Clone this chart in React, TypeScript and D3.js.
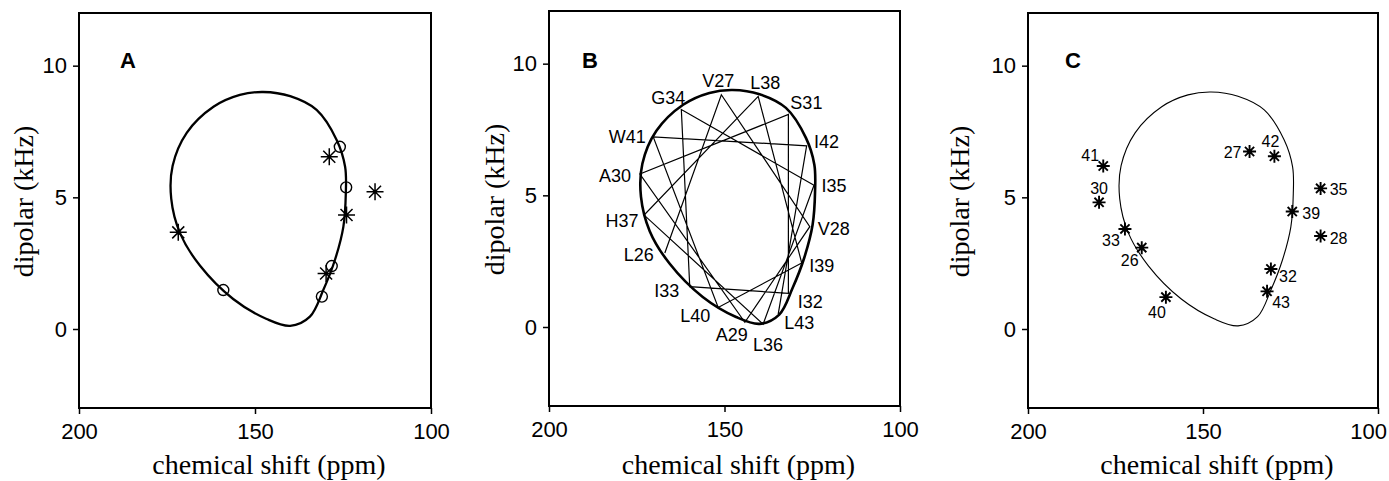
import React, { useRef, useEffect } from 'react';
import * as d3 from 'd3';

const W = 1389;
const H = 481;

// axis ticks
const xTicks = [200, 150, 100];
const yTicks = [0, 5, 10];

// theoretical wheel (ppm / kHz), clockwise from the top
const loopShift = [147.7, 140.0, 132.5, 126.8, 124.4, 124.2, 124.9, 127.3, 130.6, 134.4, 140.0, 146.7, 156.2, 165.6, 171.3, 173.8, 173.4, 169.4, 161.8, 154.3];
const loopDipolar = [9.0, 8.84, 8.32, 7.18, 6.16, 5.15, 3.88, 2.62, 1.48, 0.47, 0.12, 0.38, 1.14, 2.4, 3.64, 4.95, 6.2, 7.45, 8.44, 8.89];

// panel A: open circles and asterisks
const circleShift = [125.9, 124.1, 128.2, 131.0, 159.0];
const circleDipolar = [6.92, 5.38, 2.39, 1.23, 1.48];
const starShift = [128.9, 115.9, 124.0, 129.8, 171.8];
const starDipolar = [6.54, 5.21, 4.33, 2.11, 3.67];

// panel B: helical wheel, residues in sequence order
const wheelResidues = ['L26', 'V27', 'V28', 'A29', 'A30', 'S31', 'I32', 'I33', 'G34', 'I35', 'L36', 'H37', 'L38', 'I39', 'L40', 'W41', 'I42', 'L43'];
const wheelShift = [167.0, 150.9, 125.7, 144.2, 174.1, 131.8, 131.8, 159.9, 162.3, 124.5, 139.0, 172.9, 140.4, 128.0, 151.8, 170.3, 126.6, 134.7];
const wheelDipolar = [2.81, 8.82, 3.81, 0.18, 5.81, 8.07, 1.28, 1.53, 8.26, 5.38, 0.11, 4.25, 8.76, 2.43, 0.74, 7.22, 6.88, 0.49];

// panel C: measured residues
const measuredResidues = ['41', '30', '33', '26', '40', '27', '42', '35', '39', '28', '32', '43'];
const measuredShift = [178.5, 179.7, 172.3, 167.5, 160.6, 136.7, 129.6, 116.4, 124.5, 116.4, 130.6, 131.7];
const measuredDipolar = [6.19, 4.81, 3.8, 3.09, 1.21, 6.74, 6.56, 5.34, 4.46, 3.53, 2.28, 1.43];

// label nudges (px) from each point
const wheelNudge = {
  L26: [-26, 2], V27: [-3, -14], V28: [24, 2], A29: [-13, 12], A30: [-25, 2], S31: [18, -12],
  I32: [22, 8], I33: [-23, 4], G34: [-13, -12], I35: [20, 0], L36: [5, 20], H37: [-22, 5],
  L38: [7, -14], I39: [20, 3], L40: [-23, 8], W41: [-26, 0], I42: [20, -4], L43: [21, 8],
};
const measuredNudge = {
  '41': [-13, -11], '30': [0, -14], '33': [-14, 11], '26': [-12, 13], '40': [-9, 15], '27': [-17, 1],
  '42': [-4, -15], '35': [18, 1], '39': [19, 2], '28': [18, 2], '32': [17, 7], '43': [14, 11],
};

const panels = [
  { id: 'A', left: 79, right: 431, top: 13, bottom: 408, titleX: 33, letterX: 120, loopWidth: 2.3 },
  { id: 'B', left: 549, right: 900, top: 11, bottom: 406, titleX: 504, letterX: 582, loopWidth: 2.6 },
  { id: 'C', left: 1028, right: 1378, top: 13, bottom: 408, titleX: 969, letterX: 1065, loopWidth: 1.1 },
];

const sans = "'Liberation Sans', Arial, Helvetica, sans-serif";
const serif = "'Liberation Serif', 'Times New Roman', serif";

const starPath = (r) => {
  const p = [];
  for (let k = 0; k < 4; k++) {
    const a = (k * Math.PI) / 4;
    const dx = r * Math.cos(a), dy = r * Math.sin(a);
    p.push(`M${-dx},${-dy}L${dx},${dy}`);
  }
  return p.join('');
};

const App = () => {
  const svgRef = useRef();

  useEffect(() => {
    const svg = d3.select(svgRef.current);
    svg.selectAll('*').remove();

    panels.forEach((pn) => {
      const x = d3.scaleLinear().domain([200, 100]).range([pn.left, pn.right]);
      const y = d3.scaleLinear().domain([-3, 12]).range([pn.bottom, pn.top]);
      const g = svg.append('g');

      // axes
      const xa = g.append('g')
        .attr('transform', `translate(0,${pn.bottom})`)
        .call(d3.axisBottom(x).tickValues(xTicks).tickSize(6).tickPadding(9).tickFormat(d3.format('d')));
      const ya = g.append('g')
        .attr('transform', `translate(${pn.left},0)`)
        .call(d3.axisLeft(y).tickValues(yTicks).tickSize(6).tickPadding(6).tickFormat(d3.format('d')));
      [xa, ya].forEach((a) => {
        a.select('.domain').remove();
        a.attr('font-family', sans).attr('font-size', 22);
        a.selectAll('line').attr('stroke', '#000').attr('stroke-width', 1.5);
        a.selectAll('text').attr('fill', '#000');
      });
      // keep the rightmost tick label inside the page
      xa.selectAll('text').each(function () {
        const t = this;
        const b = t.getBBox();
        const tr = t.parentNode.getAttribute('transform');
        const tx = +/translate\(([-\d.]+)/.exec(tr)[1];
        const over = tx + b.x + b.width - (W - 2);
        if (over > 0) d3.select(t).attr('x', -over);
      });

      // frame
      g.append('rect')
        .attr('x', pn.left).attr('y', pn.top)
        .attr('width', pn.right - pn.left).attr('height', pn.bottom - pn.top)
        .attr('fill', 'none').attr('stroke', '#000').attr('stroke-width', 2);

      // titles
      g.append('text')
        .attr('x', (pn.left + pn.right) / 2 + 14).attr('y', 474)
        .attr('text-anchor', 'middle').attr('font-family', serif).attr('font-size', 28)
        .text('chemical shift (ppm)');
      g.append('text')
        .attr('transform', `translate(${pn.titleX},${(pn.top + pn.bottom) / 2 - 9}) rotate(-90)`)
        .attr('text-anchor', 'middle').attr('font-family', serif).attr('font-size', 28)
        .text('dipolar (kHz)');
      g.append('text')
        .attr('x', pn.letterX).attr('y', 68)
        .attr('font-family', sans).attr('font-weight', 'bold').attr('font-size', 22)
        .text(pn.id);

      // wheel loop
      const line = d3.line().x((d) => x(d[0])).y((d) => y(d[1])).curve(d3.curveCatmullRomClosed.alpha(0.5));
      g.append('path')
        .attr('d', line(loopShift.map((s, i) => [s, loopDipolar[i]])))
        .attr('fill', 'none').attr('stroke', '#000').attr('stroke-width', pn.loopWidth);

      if (pn.id === 'A') {
        g.selectAll('.circ').data(circleShift).enter().append('circle')
          .attr('cx', (d) => x(d)).attr('cy', (d, i) => y(circleDipolar[i])).attr('r', 5.5)
          .attr('fill', 'none').attr('stroke', '#000').attr('stroke-width', 1.4);
        g.selectAll('.star').data(starShift).enter().append('path')
          .attr('transform', (d, i) => `translate(${x(d)},${y(starDipolar[i])})`)
          .attr('d', starPath(8.5)).attr('stroke', '#000').attr('stroke-width', 1.5);
      }

      if (pn.id === 'B') {
        const pts = wheelShift.map((s, i) => [s, wheelDipolar[i]]);
        g.append('path')
          .attr('d', d3.line().x((d) => x(d[0])).y((d) => y(d[1]))(pts))
          .attr('fill', 'none').attr('stroke', '#000').attr('stroke-width', 1.2);
        g.selectAll('.lab').data(wheelResidues).enter().append('text')
          .attr('x', (d, i) => x(wheelShift[i]) + wheelNudge[d][0])
          .attr('y', (d, i) => y(wheelDipolar[i]) + wheelNudge[d][1])
          .attr('dy', '0.36em').attr('text-anchor', 'middle')
          .attr('font-family', sans).attr('font-size', 18)
          .text((d) => d);
      }

      if (pn.id === 'C') {
        g.selectAll('.star').data(measuredShift).enter().append('path')
          .attr('transform', (d, i) => `translate(${x(d)},${y(measuredDipolar[i])})`)
          .attr('d', starPath(6.5)).attr('stroke', '#000').attr('stroke-width', 1.9);
        g.selectAll('.lab').data(measuredResidues).enter().append('text')
          .attr('x', (d, i) => x(measuredShift[i]) + measuredNudge[d][0])
          .attr('y', (d, i) => y(measuredDipolar[i]) + measuredNudge[d][1])
          .attr('dy', '0.36em').attr('text-anchor', 'middle')
          .attr('font-family', sans).attr('font-size', 16)
          .text((d) => d);
      }
    });
  }, []);

  return (
    <div style={{ position: 'absolute', left: 0, top: 0 }}>
      <svg ref={svgRef} width={W} height={H} style={{ display: 'block', background: '#fff' }}></svg>
    </div>
  );
};

export default App;
